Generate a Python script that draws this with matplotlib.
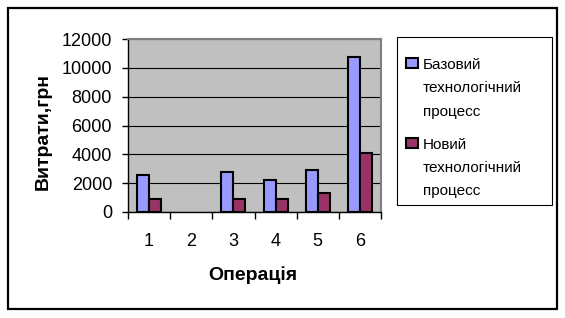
import numpy as np
import matplotlib
matplotlib.use('Agg')
import matplotlib.pyplot as plt
from matplotlib.patches import Rectangle
from matplotlib.legend_handler import HandlerPatch

plt.rcParams['font.family'] = ['Liberation Sans', 'DejaVu Sans']

# дані, зчитані з діаграми
operations = ['1', '2', '3', '4', '5', '6']
base_cost = [2600, 0, 2800, 2200, 2900, 10750]
new_cost = [900, 0, 900, 900, 1350, 4100]
series_labels = ['Базовий\nтехнологічний\nпроцесс', 'Новий\nтехнологічний\nпроцесс']
y_ticks = [0, 2000, 4000, 6000, 8000, 10000, 12000]

blue = '#9999FF'
plum = '#993366'
FS_LEG = 11
LS_LEG = 1.85


class TopSquare(HandlerPatch):
    # квадратик легенди біля першого рядка підпису
    def create_artists(self, legend, orig_handle, xdescent, ydescent,
                       width, height, fontsize, trans):
        shift = LS_LEG * 0.84 * fontsize + 1.0
        p = Rectangle((-xdescent, -ydescent + shift), width, height,
                      facecolor=orig_handle.get_facecolor(),
                      edgecolor='black', lw=1.5, transform=trans)
        return [p]


fig = plt.figure(figsize=(5.65, 3.18), dpi=100)
ax = fig.add_axes([128 / 565, 1 - 212 / 318, 253 / 565, 173 / 318])
ax.set_facecolor('#C0C0C0')

x = np.arange(1, len(operations) + 1)
w = 1 / 3.5
b1 = ax.bar(x - w / 2, base_cost, w, color=blue, edgecolor='black', linewidth=1.5)
b2 = ax.bar(x + w / 2, new_cost, w, color=plum, edgecolor='black', linewidth=1.5)
for bar in list(b1) + list(b2):
    if bar.get_height() == 0:
        bar.set_linewidth(0)

ax.set_xlim(0.5, len(operations) + 0.5)
ax.set_ylim(0, 12000)
ax.set_yticks(y_ticks)
ax.yaxis.grid(True, color='black', linewidth=0.8)
ax.set_axisbelow(True)

ax.set_xticks(np.arange(0.5, len(operations) + 1, 1))
ax.set_xticklabels([])
ax.set_xticks(x, minor=True)
ax.set_xticklabels(operations, minor=True)
ax.tick_params(axis='x', which='major', length=5, width=1, direction='out')
ax.tick_params(axis='x', which='minor', length=0, pad=15, labelsize=13)
ax.tick_params(axis='y', length=4.5, width=1, direction='out', pad=7, labelsize=13)

for s in ['left', 'bottom']:
    ax.spines[s].set_color('black')
    ax.spines[s].set_linewidth(1)
for s in ['top', 'right']:
    ax.spines[s].set_color('#808080')
    ax.spines[s].set_linewidth(1.5)

ax.set_xlabel('Операція', fontsize=14, fontweight='bold')
ax.xaxis.set_label_coords(0.494, -0.315)
ax.set_ylabel('Витрати,грн', fontsize=14, fontweight='bold')
ax.yaxis.set_label_coords(-0.30, 0.465)

# рамка легенди
fig.patches.append(Rectangle((397 / 565, 1 - 205 / 318), 155 / 565, 168 / 318,
                             transform=fig.transFigure, fill=False,
                             edgecolor='black', linewidth=0.8))
leg = fig.legend([b1[0], b2[0]], series_labels, loc='upper left',
                 bbox_to_anchor=(406 / 565, 1 - 58 / 318), frameon=False,
                 borderpad=0, borderaxespad=0, fontsize=FS_LEG,
                 handlelength=0.78, handleheight=0.6, handletextpad=0.3,
                 labelspacing=1.25,
                 handler_map={Rectangle: TopSquare()})
for t in leg.get_texts():
    t.set_linespacing(LS_LEG)

# зовнішня рамка
fig.patches.append(Rectangle((7.5 / 565, 1 - 309 / 318), 549 / 565, 301 / 318,
                             transform=fig.transFigure, fill=False,
                             edgecolor='black', linewidth=1.6))

fig.savefig('out.png', dpi=100)
